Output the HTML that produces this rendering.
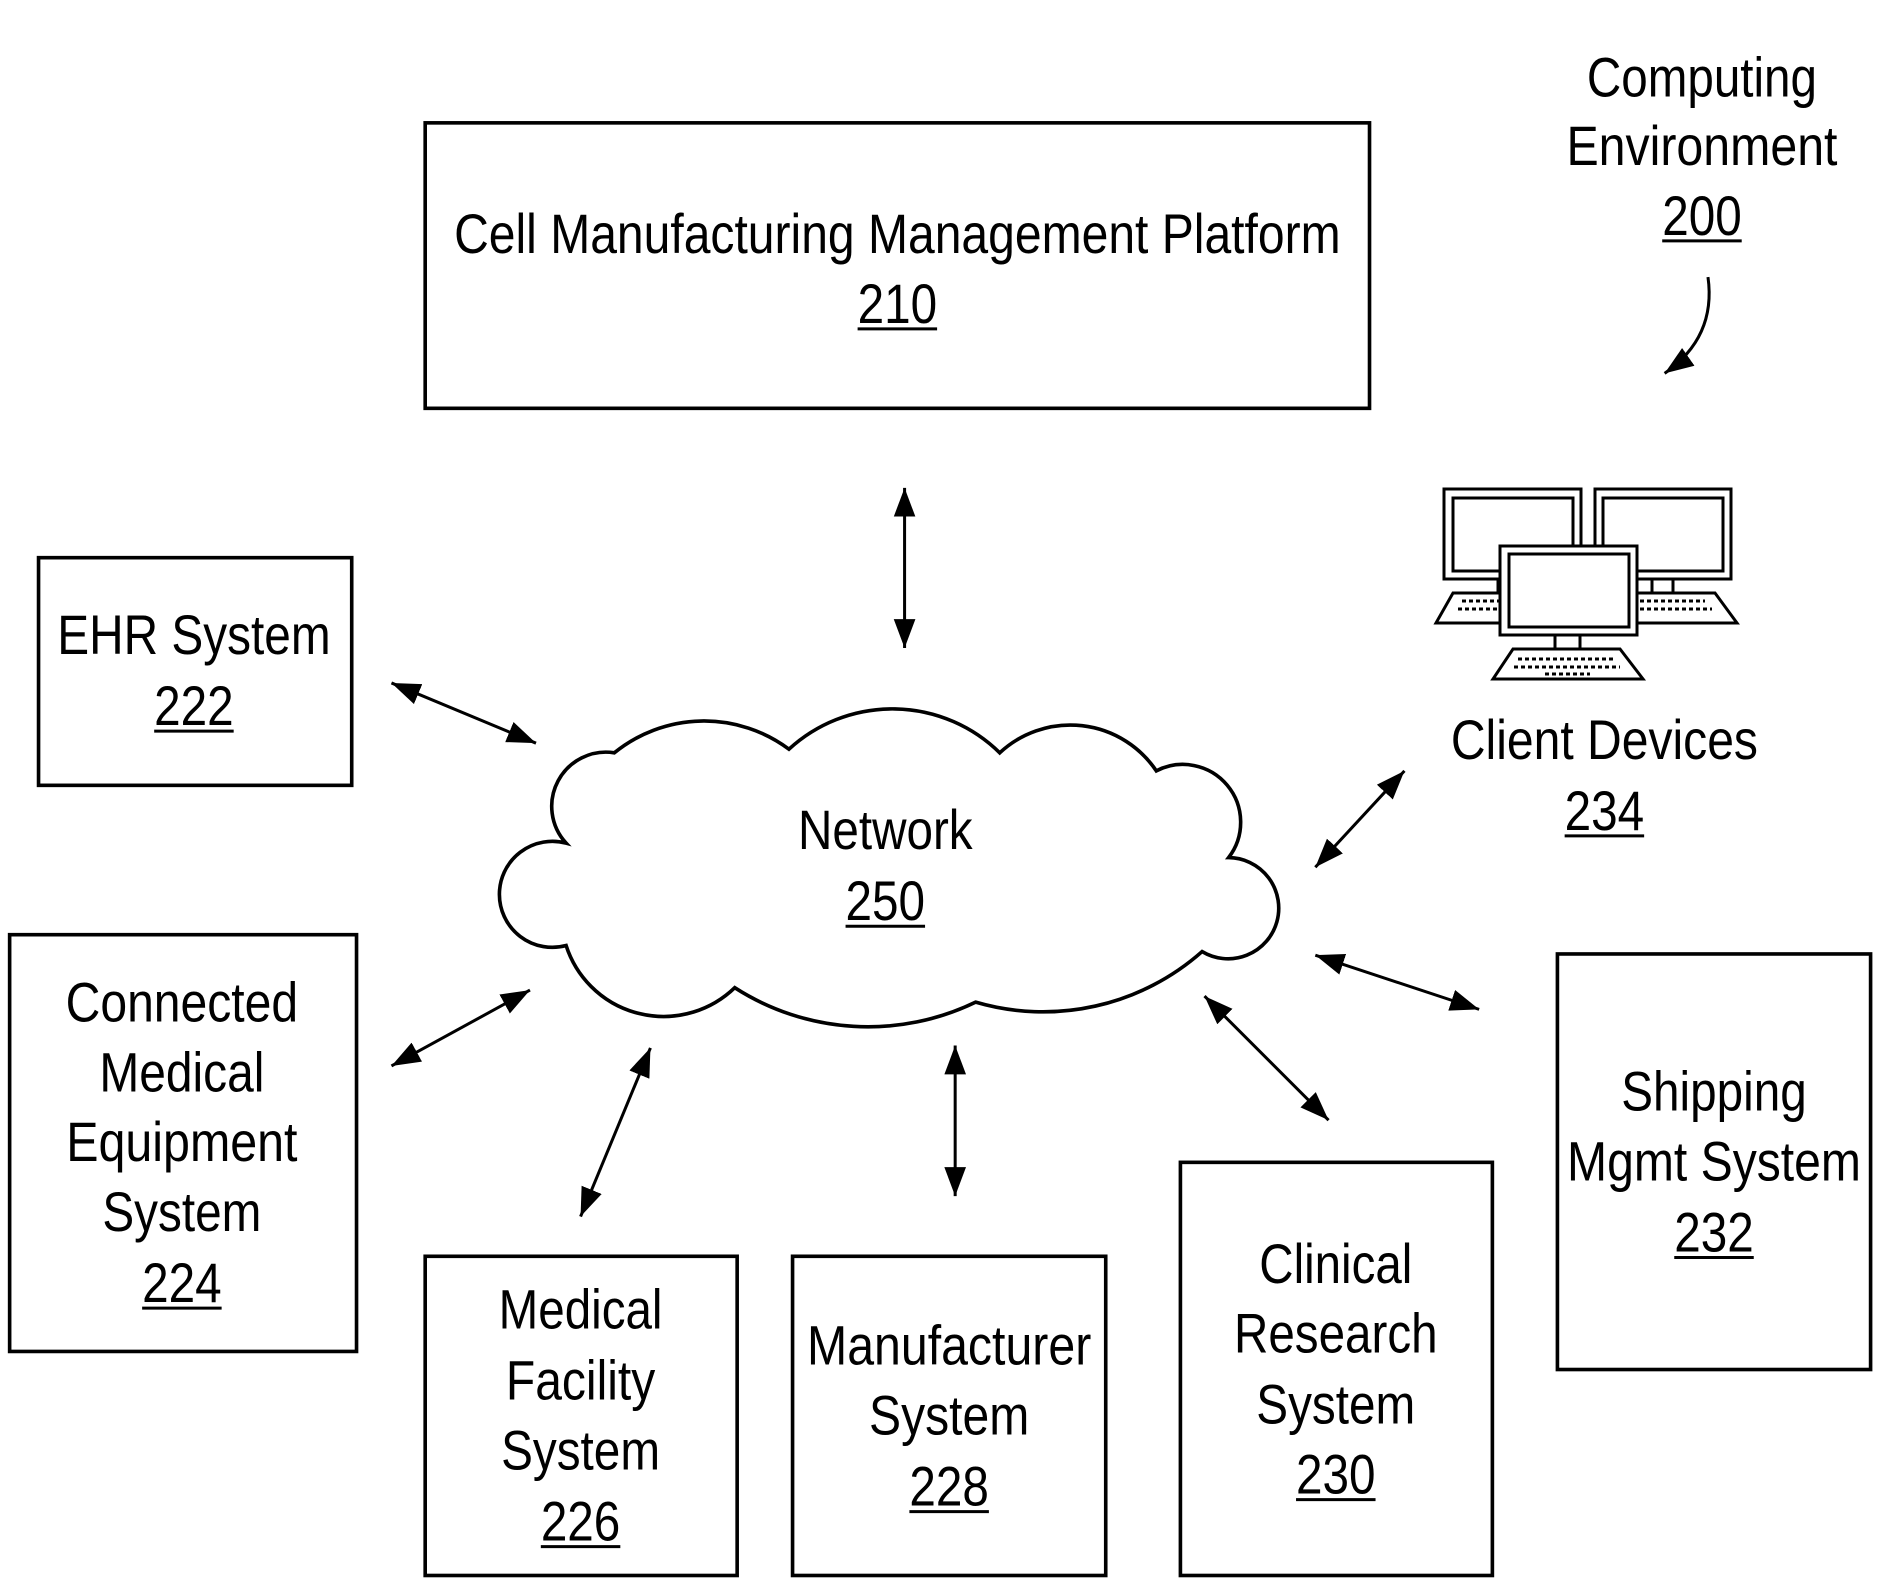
<!DOCTYPE html>
<html><head><meta charset="utf-8"><style>html,body{margin:0;padding:0;background:#fff}svg{display:block}</style></head>
<body>
<svg xmlns="http://www.w3.org/2000/svg" width="1879" height="1578" viewBox="0 0 1879 1578">
<defs>
<marker id="ah" markerUnits="userSpaceOnUse" markerWidth="26" markerHeight="20" refX="24" refY="9" orient="auto-start-reverse">
<path d="M0,0 L24,9 L0,18 z" fill="#000"/>
</marker>
</defs>
<g transform="scale(1.2045)" font-family="'Liberation Sans Narrow','Liberation Sans',sans-serif" font-size="46" fill="#000" text-anchor="middle">
<g fill="none" stroke="#000" stroke-width="3">
<rect x="353" y="102" width="784" height="237"/>
<rect x="32" y="463" width="260" height="189"/>
<rect x="8" y="776" width="288" height="346"/>
<rect x="353" y="1043" width="259" height="265"/>
<rect x="658" y="1043" width="260" height="265"/>
<rect x="980" y="965" width="259" height="343"/>
<rect x="1293" y="792" width="260" height="345"/>
<path d="M470,700 A45,45 0 0 1 510,625 A118,118 0 0 1 655,622 A127,127 0 0 1 830,625 A86,86 0 0 1 960,640 A48,48 0 0 1 1020,712 A42,42 0 1 1 998,790 A199,199 0 0 1 810,832 A205,205 0 0 1 610,820 A85,85 0 0 1 470,785 A44,44 0 1 1 470,700 z"/>
</g>
<g stroke="#000" stroke-width="2.5" marker-start="url(#ah)" marker-end="url(#ah)">
<line x1="751" y1="405" x2="751" y2="538"/>
<line x1="325" y1="567" x2="445" y2="617"/>
<line x1="1092" y1="720" x2="1166" y2="640"/>
<line x1="325" y1="885" x2="440" y2="822"/>
<line x1="482" y1="1010" x2="540" y2="870"/>
<line x1="793" y1="868" x2="793" y2="993"/>
<line x1="1000" y1="827" x2="1103" y2="930"/>
<line x1="1092" y1="793" x2="1228" y2="838"/>
</g>
<path d="M1418,230 Q1425,280 1382,310" fill="none" stroke="#000" stroke-width="2.5" marker-end="url(#ah)"/>
<text x="745" y="210" textLength="736" lengthAdjust="spacingAndGlyphs">Cell Manufacturing Management Platform</text>
<text x="745" y="268" textLength="66" lengthAdjust="spacingAndGlyphs">210</text>
<text x="1413" y="80" textLength="191" lengthAdjust="spacingAndGlyphs">Computing</text>
<text x="1413" y="137" textLength="225" lengthAdjust="spacingAndGlyphs">Environment</text>
<text x="1413" y="195" textLength="66" lengthAdjust="spacingAndGlyphs">200</text>
<text x="161" y="543" textLength="227" lengthAdjust="spacingAndGlyphs">EHR System</text>
<text x="161" y="602" textLength="66" lengthAdjust="spacingAndGlyphs">222</text>
<text x="151" y="848" textLength="193" lengthAdjust="spacingAndGlyphs">Connected</text>
<text x="151" y="906" textLength="137" lengthAdjust="spacingAndGlyphs">Medical</text>
<text x="151" y="964" textLength="192" lengthAdjust="spacingAndGlyphs">Equipment</text>
<text x="151" y="1022" textLength="132" lengthAdjust="spacingAndGlyphs">System</text>
<text x="151" y="1081" textLength="66" lengthAdjust="spacingAndGlyphs">224</text>
<text x="482" y="1103" textLength="136" lengthAdjust="spacingAndGlyphs">Medical</text>
<text x="482" y="1162" textLength="124" lengthAdjust="spacingAndGlyphs">Facility</text>
<text x="482" y="1220" textLength="132" lengthAdjust="spacingAndGlyphs">System</text>
<text x="482" y="1279" textLength="66" lengthAdjust="spacingAndGlyphs">226</text>
<text x="788" y="1133" textLength="236" lengthAdjust="spacingAndGlyphs">Manufacturer</text>
<text x="788" y="1191" textLength="133" lengthAdjust="spacingAndGlyphs">System</text>
<text x="788" y="1250" textLength="66" lengthAdjust="spacingAndGlyphs">228</text>
<text x="1109" y="1065" textLength="127" lengthAdjust="spacingAndGlyphs">Clinical</text>
<text x="1109" y="1123" textLength="169" lengthAdjust="spacingAndGlyphs">Research</text>
<text x="1109" y="1182" textLength="132" lengthAdjust="spacingAndGlyphs">System</text>
<text x="1109" y="1240" textLength="66" lengthAdjust="spacingAndGlyphs">230</text>
<text x="1423" y="922" textLength="154" lengthAdjust="spacingAndGlyphs">Shipping</text>
<text x="1423" y="980" textLength="244" lengthAdjust="spacingAndGlyphs">Mgmt System</text>
<text x="1423" y="1039" textLength="66" lengthAdjust="spacingAndGlyphs">232</text>
<text x="1332" y="630" textLength="255" lengthAdjust="spacingAndGlyphs">Client Devices</text>
<text x="1332" y="689" textLength="66" lengthAdjust="spacingAndGlyphs">234</text>
<text x="735" y="705" textLength="145" lengthAdjust="spacingAndGlyphs">Network</text>
<text x="735" y="764" textLength="66" lengthAdjust="spacingAndGlyphs">250</text>
<g stroke="#000" stroke-width="2.5">
<line x1="712" y1="273" x2="778" y2="273"/>
<line x1="1380" y1="200" x2="1446" y2="200"/>
<line x1="128" y1="607" x2="194" y2="607"/>
<line x1="118" y1="1086" x2="184" y2="1086"/>
<line x1="449" y1="1284" x2="515" y2="1284"/>
<line x1="755" y1="1255" x2="821" y2="1255"/>
<line x1="1076" y1="1245" x2="1142" y2="1245"/>
<line x1="1390" y1="1044" x2="1456" y2="1044"/>
<line x1="1299" y1="694" x2="1365" y2="694"/>
<line x1="702" y1="769" x2="768" y2="769"/>
</g>
</g>
<!-- computers, actual coords -->
<g fill="#fff" stroke="#000" stroke-width="3">
<path d="M1453,593 L1505,593 L1505,623 L1436,623 z"/>
<path d="M1630,593 L1715,593 L1737,623 L1630,623 z"/>
<rect x="1498" y="579" width="8" height="14"/>
<rect x="1652" y="579" width="21" height="14"/>
<rect x="1444" y="489" width="137" height="90"/>
<rect x="1453" y="498" width="120" height="73"/>
<rect x="1595" y="489" width="136" height="90"/>
<rect x="1603" y="498" width="120" height="73"/>
<rect x="1555" y="635" width="25" height="14"/>
<path d="M1513,649 L1620,649 L1643,679 L1493,679 z"/>
<rect x="1500" y="546" width="137" height="89"/>
<rect x="1509" y="554" width="120" height="73"/>
</g>
<g stroke="#000" stroke-width="3" stroke-dasharray="4,3">
<line x1="1518" y1="659" x2="1615" y2="659"/>
<line x1="1514" y1="667" x2="1620" y2="667"/>
<line x1="1545" y1="674" x2="1590" y2="674"/>
<line x1="1462" y1="601" x2="1500" y2="601"/>
<line x1="1458" y1="609" x2="1500" y2="609"/>
<line x1="1640" y1="601" x2="1705" y2="601"/>
<line x1="1640" y1="609" x2="1712" y2="609"/>
</g>
</svg>
</body></html>
